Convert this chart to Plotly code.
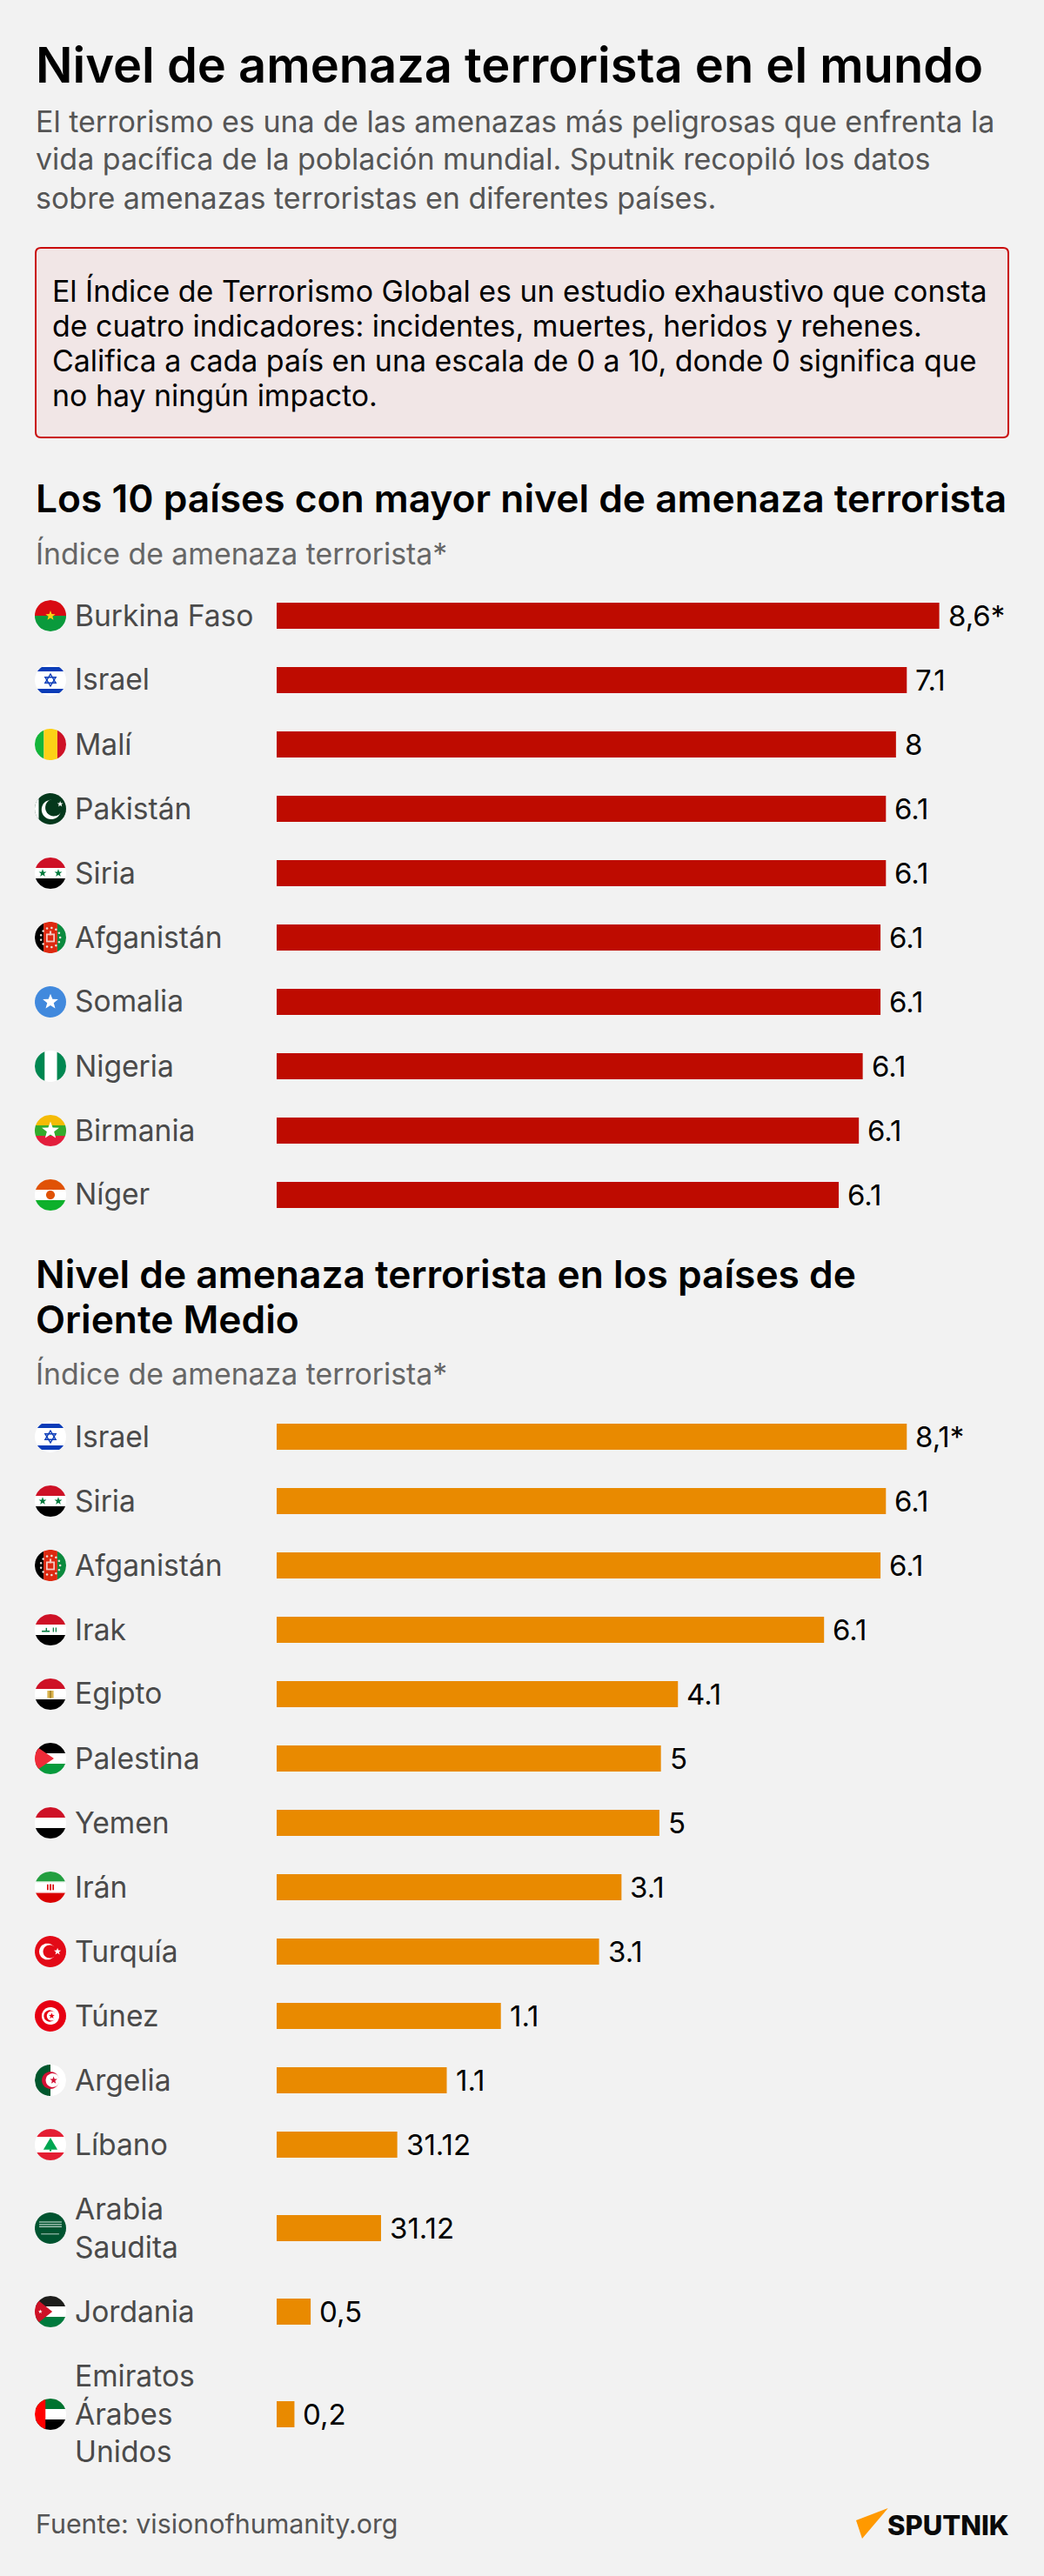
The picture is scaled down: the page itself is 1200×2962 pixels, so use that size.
import numpy as np
import plotly.graph_objects as go

# ---------- data ----------
top_names = ["Burkina Faso", "Israel", "Malí", "Pakistán", "Siria", "Afganistán", "Somalia", "Nigeria", "Birmania", "Níger"]
top_values = [8.57, 8.15, 8.01, 7.88, 7.88, 7.81, 7.81, 7.58, 7.53, 7.27]
top_labels = ["8,6*", "7.1", "8", "6.1", "6.1", "6.1", "6.1", "6.1", "6.1", "6.1"]

mid_names = ["Israel", "Siria", "Afganistán", "Irak", "Egipto", "Palestina", "Yemen", "Irán", "Turquía", "Túnez",
             "Argelia", "Líbano", "Arabia<br>Saudita", "Jordania", "Emiratos<br>Árabes<br>Unidos"]
mid_values = [8.15, 7.88, 7.81, 7.08, 5.19, 4.97, 4.95, 4.46, 4.17, 2.90, 2.20, 1.56, 1.35, 0.44, 0.23]
mid_labels = ["8,1*", "6.1", "6.1", "6.1", "4.1", "5", "5", "3.1", "3.1", "1.1", "1.1", "31.12", "31.12", "0,5", "0,2"]

title = "Nivel de amenaza terrorista en el mundo"
intro = ["El terrorismo es una de las amenazas más peligrosas que enfrenta la",
         "vida pacífica de la población mundial. Sputnik recopiló los datos",
         "sobre amenazas terroristas en diferentes países."]
note = ["El Índice de Terrorismo Global es un estudio exhaustivo que consta",
        "de cuatro indicadores: incidentes, muertes, heridos y rehenes.",
        "Califica a cada país en una escala de 0 a 10, donde 0 significa que",
        "no hay ningún impacto."]
head1 = "Los 10 países con mayor nivel de amenaza terrorista"
head2 = ["Nivel de amenaza terrorista en los países de", "Oriente Medio"]
axis_note = "Índice de amenaza terrorista*"
source = "Fuente: visionofhumanity.org"

# ---------- page geometry ----------
W, H = 1200, 2962
BG = "#f2f2f2"
X0 = 318
PX_PER_UNIT = 88.87
FONT = "Inter"


def row_centers(names, first):
    ys, y = [], first
    for i, n in enumerate(names):
        lines = n.count("<br>") + 1
        if i:
            prev = names[i - 1].count("<br>") + 1
            y += (74 + 44 * (prev - 1)) / 2 + (74 + 44 * (lines - 1)) / 2
        ys.append(y)
    return ys


top_y = row_centers(top_names, 708)
mid_y = row_centers(mid_names, 1652)

fig = go.Figure()
fig.add_bar(x=top_values, y=top_y, orientation="h", width=30, marker=dict(color="#be0b00", line_width=0), hoverinfo="skip")
fig.add_bar(x=mid_values, y=mid_y, orientation="h", width=30, marker=dict(color="#e98a00", line_width=0), hoverinfo="skip")

ann, shp = [], []


def text(x, y, s, size, color="#000", weight=400, anchor="left"):
    ann.append(dict(x=x / W, y=1 - y / H, xref="paper", yref="paper", text=s, showarrow=False, xanchor=anchor, yanchor="middle",
                    align="left", borderpad=0, borderwidth=0,
                    font=dict(family=FONT, size=size, color=color, weight=weight)))


# ---------- flag helpers ----------
def poly(pts, color, line=None, lw=0):
    p = "M" + "L".join(f"{x / W:.6f},{1 - y / H:.6f}" for x, y in pts) + "Z"
    shp.append(dict(type="path", path=p, xref="paper", yref="paper", fillcolor=color,
                    line=dict(width=lw, color=line or color), layer="above"))


def Flag(cx, cy, r=18):
    def P(u, v):
        return cx + u * r, cy + v * r

    def hb(a, b, c):
        ys = np.linspace(a, b, 16)
        right = [P(np.sqrt(max(0, 1 - v * v)), v) for v in ys]
        left = [P(-np.sqrt(max(0, 1 - v * v)), v) for v in ys[::-1]]
        poly(right + left, c)

    def vb(a, b, c):
        xs = np.linspace(a, b, 16)
        lo = [P(u, -np.sqrt(max(0, 1 - u * u))) for u in xs]
        hi = [P(u, np.sqrt(max(0, 1 - u * u))) for u in xs[::-1]]
        poly(lo + hi, c)

    def disc(u, v, rad, c):
        t = np.linspace(0, 2 * np.pi, 36)[:-1]
        poly([P(u + rad * np.cos(a), v + rad * np.sin(a)) for a in t], c)

    def star(u, v, rad, c):
        pts = []
        for k in range(10):
            a = -np.pi / 2 + k * np.pi / 5
            q = rad if k % 2 == 0 else rad * 0.42
            pts.append(P(u + q * np.cos(a), v + q * np.sin(a)))
        poly(pts, c)

    def hoist(tip, half, c):
        # triangle from the left edge of the disc, its base following the circle
        vs = np.linspace(-half, half, 16)
        poly([P(-np.sqrt(1 - v * v), v) for v in vs] + [P(tip, 0)], c)

    def rect(u0, v0, u1, v1, c):
        poly([P(u0, v0), P(u1, v0), P(u1, v1), P(u0, v1)], c)

    return dict(hb=hb, vb=vb, disc=disc, star=star, hoist=hoist, rect=rect, P=P)


RED, BLK, WHT = "#ce1126", "#000000", "#ffffff"


def draw_flag(name, cy):
    f = Flag(58, cy)
    hb, vb, disc, star, hoist, rect, P = f["hb"], f["vb"], f["disc"], f["star"], f["hoist"], f["rect"], f["P"]
    if name == "Burkina Faso":
        hb(-1, 0, "#d80a12"); hb(0, 1, "#0a9a3c"); star(0, 0, .33, "#fcd116")
    elif name == "Israel":
        disc(0, 0, 1, WHT); hb(-.84, -.56, "#0a3cb8"); hb(.56, .84, "#0a3cb8")
        for s in (1, -1):
            poly([P(-.34, .18 * s), P(.34, .18 * s), P(0, -.38 * s), P(-.34, .18 * s)], "rgba(0,0,0,0)", "#0a3cb8", 1.4)
    elif name == "Malí":
        vb(-1, -.42, "#14b53a"); vb(-.42, .44, "#fcd116"); vb(.44, 1, "#ce1126")
    elif name == "Pakistán":
        disc(0, 0, 1, "#04381c"); vb(-1, -.75, WHT)
        disc(.05, .05, .62, WHT); disc(.22, -.08, .55, "#04381c"); star(.62, -.3, .2, WHT)
    elif name in ("Siria", "Irak", "Egipto", "Yemen"):
        hb(-1, -.33, RED); hb(-.33, .33, WHT); hb(.33, 1, BLK)
        if name == "Siria":
            star(-.5, 0, .26, "#007a3d"); star(.5, 0, .26, "#007a3d")
        if name == "Irak":
            rect(-.55, .05, -.05, .14, "#007a3d"); rect(.15, -.14, .22, .14, "#007a3d")
            rect(.32, -.14, .39, .14, "#007a3d"); rect(-.3, -.12, -.22, .1, "#007a3d")
        if name == "Egipto":
            rect(-.2, -.22, .2, .25, "#d9b24c"); rect(-.05, -.22, .05, .25, "#a8842c")
    elif name == "Afganistán":
        vb(-1, -.44, BLK); vb(-.44, .44, "#de2910"); vb(.44, 1, "#0b8a3e")
        for a in np.linspace(0, 2 * np.pi, 14)[:-1]:
            disc(.62 * np.cos(a), .62 * np.sin(a), .07, "#e8e0d8")
        rect(-.28, -.25, .28, .3, "#f3c8c0"); rect(-.18, -.15, .18, .2, "#de2910"); rect(-.06, -.42, .06, -.15, "#f3c8c0")
    elif name == "Somalia":
        disc(0, 0, 1, "#4189dd"); star(0, 0, .52, WHT)
    elif name == "Nigeria":
        vb(-1, -.36, "#008751"); vb(-.36, .42, WHT); vb(.42, 1, "#008751")
    elif name == "Birmania":
        hb(-1, -.33, "#f5bb06"); hb(-.33, .33, "#34ab2c"); hb(.33, 1, "#e31e3c"); star(0, 0, .58, WHT)
    elif name == "Níger":
        hb(-1, -.33, "#e05206"); hb(-.33, .33, WHT); hb(.33, 1, "#0db02b"); disc(0, 0, .28, "#e05206")
    elif name == "Palestina":
        hb(-1, -.33, BLK); hb(-.33, .33, WHT); hb(.33, 1, "#079a3c")
        hoist(.22, .66, "#ee2b38")
    elif name == "Irán":
        hb(-1, -.36, "#239f40"); hb(-.36, .36, WHT); hb(.36, 1, "#da0000")
        rect(-.9, -.38, .9, -.32, "#a9d9b3"); rect(-.9, .32, .9, .38, "#f0a0a0")
        rect(-.22, -.18, -.13, .18, "#da0000"); rect(-.05, -.2, .05, .2, "#da0000"); rect(.13, -.18, .22, .18, "#da0000")
    elif name == "Turquía":
        disc(0, 0, 1, "#e30a17"); disc(-.2, 0, .52, WHT); disc(-.05, 0, .42, "#e30a17"); star(.45, 0, .24, WHT)
    elif name == "Túnez":
        disc(0, 0, 1, "#e70013"); disc(0, 0, .56, WHT); disc(-.05, 0, .37, "#e70013"); disc(.07, 0, .3, WHT); star(.08, 0, .2, "#e70013")
    elif name == "Argelia":
        vb(-1, 0, "#00572d"); vb(0, 1, WHT); disc(0, 0, .55, "#d21034"); disc(.14, 0, .44, WHT)
        star(.2, 0, .25, "#d21034")
    elif name == "Líbano":
        hb(-1, -.5, "#e41e33"); hb(-.5, .5, WHT); hb(.5, 1, "#e41e33")
        poly([P(0, -.44), P(.45, .32), P(-.45, .32)], "#00a651"); rect(-.06, .3, .06, .42, "#00a651")
    elif name.startswith("Arabia"):
        disc(0, 0, 1, "#005430"); rect(-.72, -.42, .72, -.36, "#cfe0d6"); rect(-.72, -.26, .72, -.2, "#cfe0d6")
        rect(-.72, -.12, .72, -.06, "#cfe0d6"); rect(-.6, .36, .55, .4, WHT)
    elif name == "Jordania":
        hb(-1, -.33, "#1d1d1b"); hb(-.33, .33, WHT); hb(.33, 1, "#007a3d")
        hoist(.12, .68, "#ce1126"); star(-.65, 0, .14, WHT)
    elif name.startswith("Emiratos"):
        hb(-1, -.33, "#00732f"); hb(-.33, .33, WHT); hb(.33, 1, BLK); vb(-1, -.32, "#ff0000")


# ---------- headline block ----------
text(41, 75, title, 56, "#000", 600)
for i, s in enumerate(intro):
    text(41, 139 + 44 * i, s, 34, "#555555")

d = 6
x0b, x1b, y0b, y1b = 41, 1159, 285, 503
fx, fy = (lambda v: v / W), (lambda v: 1 - v / H)
path = (f"M{fx(x0b + d)},{fy(y0b)}L{fx(x1b - d)},{fy(y0b)}Q{fx(x1b)},{fy(y0b)} {fx(x1b)},{fy(y0b + d)}"
        f"L{fx(x1b)},{fy(y1b - d)}Q{fx(x1b)},{fy(y1b)} {fx(x1b - d)},{fy(y1b)}L{fx(x0b + d)},{fy(y1b)}"
        f"Q{fx(x0b)},{fy(y1b)} {fx(x0b)},{fy(y1b - d)}L{fx(x0b)},{fy(y0b + d)}Q{fx(x0b)},{fy(y0b)} {fx(x0b + d)},{fy(y0b)}Z")
shp.append(dict(type="path", path=path, xref="paper", yref="paper", fillcolor="#f1e6e6", line=dict(color="#c90a0a", width=2), layer="below"))
for i, s in enumerate(note):
    text(60, 334.5 + 40 * i, s, 33.9, "#000")

text(41, 573, head1, 44.3, "#000", 600)
text(41, 636, axis_note, 33.8, "#666666")
text(41, 1465, head2[0], 44.3, "#000", 600)
text(41, 1517, head2[1], 44.3, "#000", 600)
text(41, 1580, axis_note, 33.8, "#666666")


# ---------- rows ----------
def rows(names, vals, labels, ys):
    for n, v, l, y in zip(names, vals, labels, ys):
        draw_flag(n, y)
        text(86, y - 1, n, 33.6, "#4a4a4a")
        ann.append(dict(x=v, y=y, xref="x", yref="y", text=l, showarrow=False, xanchor="left", yanchor="middle",
                        xshift=10, borderpad=0, borderwidth=0, font=dict(family=FONT, size=33, color="#000")))


rows(top_names, top_values, top_labels, top_y)
rows(mid_names, mid_values, mid_labels, mid_y)

# ---------- footer ----------
text(41, 2902, source, 30.4, "#555555")
poly([(984, 2898), (1020.7, 2884), (991, 2919)], "#ff9900")
text(1020, 2903, "SPUTNIK", 31, "#0a0a0a", 800)

fig.update_layout(
    width=W, height=H, margin=dict(l=0, r=0, t=0, b=0, pad=0),
    paper_bgcolor=BG, plot_bgcolor=BG, showlegend=False, barmode="overlay",
    xaxis=dict(range=[-X0 / PX_PER_UNIT, (W - X0) / PX_PER_UNIT], visible=False, fixedrange=True),
    yaxis=dict(range=[H, 0], visible=False, fixedrange=True),
    shapes=shp, annotations=ann,
)
fig.write_html("out.html", config=dict(displayModeBar=False),
               post_script="document.body.style.margin='0';document.documentElement.style.overflow='hidden';")
